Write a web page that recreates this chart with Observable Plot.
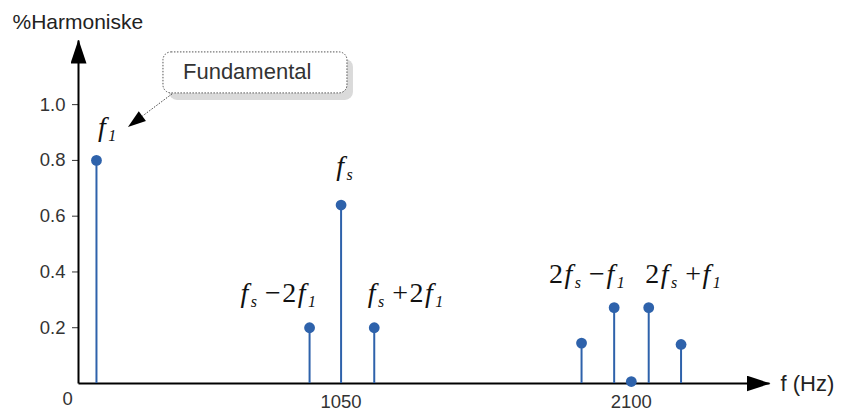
<!DOCTYPE html>
<html>
<head>
<meta charset="utf-8">
<script src="https://cdn.jsdelivr.net/npm/d3@7"></script>
<script src="https://cdn.jsdelivr.net/npm/@observablehq/plot@0.6"></script>
<style>
  html, body { margin: 0; padding: 0; background: #fff; }
  #chart { width: 844px; height: 412px; }
</style>
</head>
<body>
<div id="chart"></div>
<script>
// Harmonic spectrum of the output: fundamental, switching frequency and sidebands
const components  = ["f1", "fs-2f1", "fs", "fs+2f1", "2fs-3f1", "2fs-f1", "2fs", "2fs+f1", "2fs+3f1"];
const frequencies = [165, 936, 1050, 1170, 1920, 2038, 2100, 2163, 2280];
const amplitudes  = [0.8, 0.2, 0.64, 0.2, 0.145, 0.272, 0.007, 0.272, 0.14];

// Axis ticks
const yTicks = [0.2, 0.4, 0.6, 0.8, 1.0];
const xTicks = [1050, 2100];

// Component labels ("_" marks a subscript)
const labelComponents = ["f1", "fs", "fs-2f1", "fs+2f1", "2fs-f1", "2fs+f1"];
const labelTexts      = ["f_1", "f_s", "f_s −2f_1", "f_s +2f_1", "2f_s −f_1", "2f_s +f_1"];

const xDomain = [100, 2600];
const yDomain = [0, 1.23];

const spectrum = components.map((c, i) => ({component: c, frequency: frequencies[i], amplitude: amplitudes[i]}));

const blue = "#2e62ab";
const serif = "'Liberation Serif', 'Times New Roman', serif";
const sans = "'Liberation Sans', Arial, sans-serif";

// Label placement relative to the component it names
const placement = {
  "f1":     {textAnchor: "start",  dx: 0,  dy: -24},
  "fs":     {textAnchor: "middle", dx: 2,  dy: -30},
  "fs-2f1": {textAnchor: "end",    dx: 5,  dy: -26},
  "fs+2f1": {textAnchor: "start",  dx: -8, dy: -26},
  "2fs-f1": {textAnchor: "end",    dx: 9,  dy: -25},
  "2fs+f1": {textAnchor: "start",  dx: -5, dy: -25}
};

const labelMarks = labelComponents.map((c, i) =>
  Plot.text(spectrum.filter(d => d.component === c), {
    x: "frequency", y: "amplitude",
    text: () => labelTexts[i],
    lineAnchor: "bottom",
    fontFamily: serif, fontSize: 28, fill: "#111",
    ...placement[c]
  })
);

const plot = Plot.plot({
  width: 844, height: 412,
  marginLeft: 78, marginRight: 75, marginTop: 40, marginBottom: 29,
  x: {domain: xDomain, axis: null},
  y: {domain: yDomain, axis: "left", ticks: yTicks, tickFormat: d3.format(".1f"), tickSize: 6, tickPadding: 7, label: null},
  style: {fontFamily: sans, fontSize: "18.5px", color: "#333", background: "#fff", overflow: "visible"},
  marks: [
    // axis lines (arrowheads attached below)
    Plot.link([{}], {x1: () => xDomain[0], y1: () => yDomain[0], x2: () => xDomain[0], y2: () => yDomain[1], stroke: "#000", strokeWidth: 2}),
    Plot.link([{}], {x1: () => xDomain[0], y1: () => yDomain[0], x2: () => xDomain[1], y2: () => yDomain[0], stroke: "#000", strokeWidth: 2}),
    // spectral lines
    Plot.ruleX(spectrum, {x: "frequency", y1: 0, y2: "amplitude", stroke: blue, strokeWidth: 2}),
    Plot.dot(spectrum, {x: "frequency", y: "amplitude", r: 5.4, fill: blue}),
    // x tick labels
    Plot.text(xTicks, {x: d => d, text: d => String(d), frameAnchor: "bottom", lineAnchor: "bottom", dy: 24, fontSize: 18.5, fill: "#333"}),
    // origin label
    Plot.text(["0"], {text: d => d, frameAnchor: "bottom-left", lineAnchor: "bottom", dx: -16, dy: 21, fontSize: 18.5, fill: "#333"}),
    // axis titles
    Plot.text(["%Harmoniske"], {text: d => d, frameAnchor: "top-left", textAnchor: "start", lineAnchor: "bottom", dx: -66, dy: -12, fontSize: 21, fill: "#222"}),
    Plot.text(["f (Hz)"], {text: d => d, frameAnchor: "bottom-right", textAnchor: "start", lineAnchor: "middle", dx: 11, fontSize: 22, fill: "#222"}),
    ...labelMarks
  ]
});

document.getElementById("chart").appendChild(plot);

const svg = d3.select(plot);

// Filled arrowheads on the axes
const defs = svg.insert("defs", ":first-child");
defs.append("marker")
  .attr("id", "axis-head")
  .attr("viewBox", "0 0 24 16")
  .attr("refX", 23).attr("refY", 8)
  .attr("markerWidth", 24).attr("markerHeight", 16)
  .attr("markerUnits", "userSpaceOnUse")
  .attr("orient", "auto")
  .append("path").attr("d", "M0,0L24,8L0,16Z").attr("fill", "#000");
svg.selectAll('g[aria-label="link"] path').attr("marker-end", "url(#axis-head)");

// Math labels: italic letters, lowered and slightly spaced subscripts
svg.selectAll("text").filter(function () { return this.textContent.includes("_"); }).each(function () {
  const el = d3.select(this);
  const tokens = this.textContent.match(/_.|[A-Za-z]|[−+]|[^_A-Za-z−+]+/g);
  el.text(null);
  let lowered = false;
  for (const t of tokens) {
    const ts = el.append("tspan");
    if (t[0] === "_") {
      ts.text(t.slice(1)).attr("font-style", "italic").attr("font-size", 16).attr("dx", 2.5);
      if (!lowered) ts.attr("dy", 5);
      lowered = true;
    } else {
      ts.text(t).attr("font-style", /[A-Za-z]/.test(t) ? "italic" : "normal");
      if (/[−+]/.test(t)) ts.attr("dx", 1);
      if (/[A-Za-z0-9]/.test(t) && !lowered) ts.attr("dx", 1.5);
      if (lowered) { ts.attr("dy", -5); lowered = false; }
    }
  }
});

// Callout pointing at the fundamental
const sx = plot.scale("x"), sy = plot.scale("y");
const ax = sx.apply(frequencies[0]), ay = sy.apply(amplitudes[0]);
const callout = svg.append("g").attr("transform", `translate(${ax},${ay})`);
const box = {x: 67, y: -108, w: 184, h: 41};
callout.append("rect")
  .attr("x", box.x + 6).attr("y", box.y + 7).attr("width", box.w).attr("height", box.h)
  .attr("rx", 8).attr("fill", "#dadada");
callout.append("rect")
  .attr("x", box.x).attr("y", box.y).attr("width", box.w).attr("height", box.h)
  .attr("rx", 8).attr("fill", "#fff").attr("stroke", "#555").attr("stroke-width", 1)
  .attr("stroke-dasharray", "1.5,1.5");
callout.append("text")
  .attr("x", box.x + 20).attr("y", box.y + 27)
  .attr("text-anchor", "start").attr("font-size", 22).attr("fill", "#333")
  .attr("font-family", sans)
  .text("Fundamental");
// connector with a filled head
const start = [box.x + 9, box.y + box.h + 1], tip = [32, -33];
const vx = tip[0] - start[0], vy = tip[1] - start[1], len = Math.hypot(vx, vy);
const ux = vx / len, uy = vy / len, headLen = 18, headHalf = 6;
const base = [tip[0] - ux * headLen, tip[1] - uy * headLen];
callout.append("line")
  .attr("x1", start[0]).attr("y1", start[1]).attr("x2", base[0]).attr("y2", base[1])
  .attr("stroke", "#444").attr("stroke-width", 1).attr("stroke-dasharray", "1.5,1.5");
callout.append("path")
  .attr("d", `M${tip[0]},${tip[1]}L${base[0] - uy * headHalf},${base[1] + ux * headHalf}L${base[0] + uy * headHalf},${base[1] - ux * headHalf}Z`)
  .attr("fill", "#000");
</script>
</body>
</html>
